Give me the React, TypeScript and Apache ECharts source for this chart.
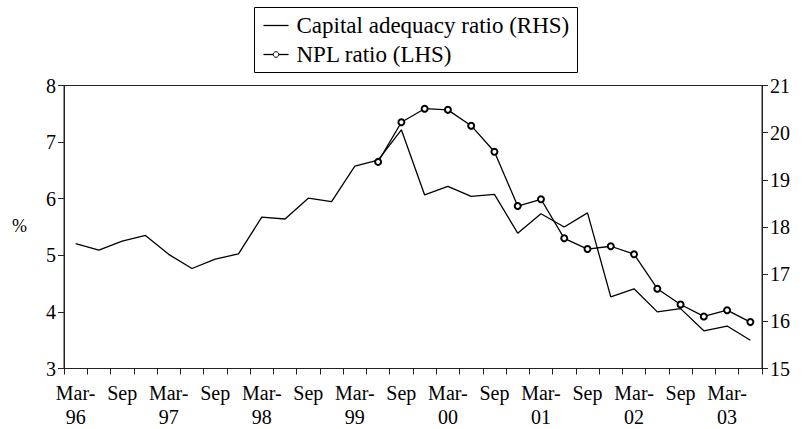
import React, { useEffect, useRef } from "react";
import * as echarts from "echarts";

const categories = [
  "Mar-96", "Jun-96", "Sep-96", "Dec-96",
  "Mar-97", "Jun-97", "Sep-97", "Dec-97",
  "Mar-98", "Jun-98", "Sep-98", "Dec-98",
  "Mar-99", "Jun-99", "Sep-99", "Dec-99",
  "Mar-00", "Jun-00", "Sep-00", "Dec-00",
  "Mar-01", "Jun-01", "Sep-01", "Dec-01",
  "Mar-02", "Jun-02", "Sep-02", "Dec-02",
  "Mar-03", "Jun-03",
];

// Capital adequacy ratio (RHS, %)
const capitalAdequacy = [
  17.65, 17.51, 17.7, 17.82, 17.42, 17.12, 17.32, 17.43,
  18.21, 18.17, 18.61, 18.54, 19.29, 19.42, 20.06, 18.68,
  18.86, 18.65, 18.69, 17.87, 18.28, 18.0, 18.3, 16.52,
  16.69, 16.2, 16.27, 15.8, 15.9, 15.6,
];

// NPL ratio (LHS, %)
const nplRatio = [
  null, null, null, null, null, null, null, null,
  null, null, null, null, null, 6.65, 7.35, 7.59,
  7.57, 7.29, 6.83, 5.87, 5.99, 5.3, 5.11, 5.16,
  5.02, 4.41, 4.13, 3.92, 4.03, 3.82,
];

const legendNames = ["Capital adequacy ratio (RHS)", "NPL ratio (LHS)"];

const FONT = "'Liberation Serif', 'Times New Roman', serif";
const AXIS_COLOR = "#222";

export default function App() {
  const ref = useRef<HTMLDivElement>(null);

  useEffect(() => {
    if (!ref.current) return;
    const chart = echarts.init(ref.current, undefined, { renderer: "svg" });
    chart.setOption({
      animation: false,
      backgroundColor: "#fff",
      textStyle: { fontFamily: FONT, color: "#000" },
      grid: {
        left: 64,
        right: 41,
        top: 85.5,
        bottom: 60.5,
        show: true,
        borderColor: AXIS_COLOR,
        borderWidth: 1,
        backgroundColor: "transparent",
      },
      legend: { show: false },
      graphic: [
        {
          type: "text",
          left: 12,
          top: 217,
          style: { text: "%", font: `18px ${FONT}`, fill: "#000" },
        },
        {
          type: "group",
          left: 254,
          top: 7,
          children: [
            {
              type: "rect",
              shape: { x: 0, y: 0, width: 323, height: 65 },
              style: { fill: "#fff", stroke: "#000", lineWidth: 1 },
            },
            {
              type: "line",
              shape: { x1: 9, y1: 18, x2: 34, y2: 18 },
              style: { stroke: "#000", lineWidth: 1.3 },
            },
            {
              type: "text",
              x: 42,
              y: 18,
              style: {
                text: legendNames[0],
                font: `23px ${FONT}`,
                fill: "#000",
                verticalAlign: "middle",
              },
            },
            {
              type: "line",
              shape: { x1: 9, y1: 47, x2: 34, y2: 47 },
              style: { stroke: "#000", lineWidth: 1.3 },
            },
            {
              type: "circle",
              shape: { cx: 21.5, cy: 47, r: 2.8 },
              style: { fill: "#fff", stroke: "#000", lineWidth: 1 },
            },
            {
              type: "text",
              x: 42,
              y: 47,
              style: {
                text: legendNames[1],
                font: `23px ${FONT}`,
                fill: "#000",
                verticalAlign: "middle",
              },
            },
          ],
        },
      ],
      xAxis: {
        type: "category",
        data: categories,
        boundaryGap: true,
        axisLine: { lineStyle: { color: AXIS_COLOR, width: 1 } },
        axisTick: { show: true, interval: 0, length: 6, lineStyle: { color: AXIS_COLOR } },
        axisLabel: {
          interval: 1,
          margin: 12,
          fontSize: 20,
          lineHeight: 24,
          color: "#000",
          fontFamily: FONT,
          formatter: (v: string) => {
            const [m, y] = v.split("-");
            if (m === "Mar") return "Mar-\n" + y;
            if (m === "Sep") return "Sep";
            return "";
          },
        },
        splitLine: { show: false },
      },
      yAxis: [
        {
          type: "value",
          min: 3,
          max: 8,
          interval: 1,
          position: "left",
          axisLine: { show: true, lineStyle: { color: AXIS_COLOR, width: 1 } },
          axisTick: { show: true, length: 6, lineStyle: { color: AXIS_COLOR } },
          axisLabel: { margin: 8, fontSize: 20, color: "#000", fontFamily: FONT },
          splitLine: { show: false },
        },
        {
          type: "value",
          min: 15,
          max: 21,
          interval: 1,
          position: "right",
          axisLine: { show: true, lineStyle: { color: AXIS_COLOR, width: 1 } },
          axisTick: { show: true, length: 6, lineStyle: { color: AXIS_COLOR } },
          axisLabel: { margin: 8, fontSize: 20, color: "#000", fontFamily: FONT },
          splitLine: { show: false },
        },
      ],
      series: [
        {
          name: legendNames[0],
          type: "line",
          yAxisIndex: 1,
          data: capitalAdequacy,
          symbol: "none",
          lineStyle: { color: "#000", width: 1.3 },
          itemStyle: { color: "#000" },
        },
        {
          name: legendNames[1],
          type: "line",
          yAxisIndex: 0,
          data: nplRatio,
          symbol: "emptyCircle",
          symbolSize: 6,
          showSymbol: true,
          lineStyle: { color: "#000", width: 1.3 },
          itemStyle: { color: "#000", borderColor: "#000", borderWidth: 1 },
        },
      ],
    });
    return () => chart.dispose();
  }, []);

  return (
    <div
      ref={ref}
      style={{ position: "fixed", left: 0, top: 0, width: 803, height: 429 }}
    />
  );
}
